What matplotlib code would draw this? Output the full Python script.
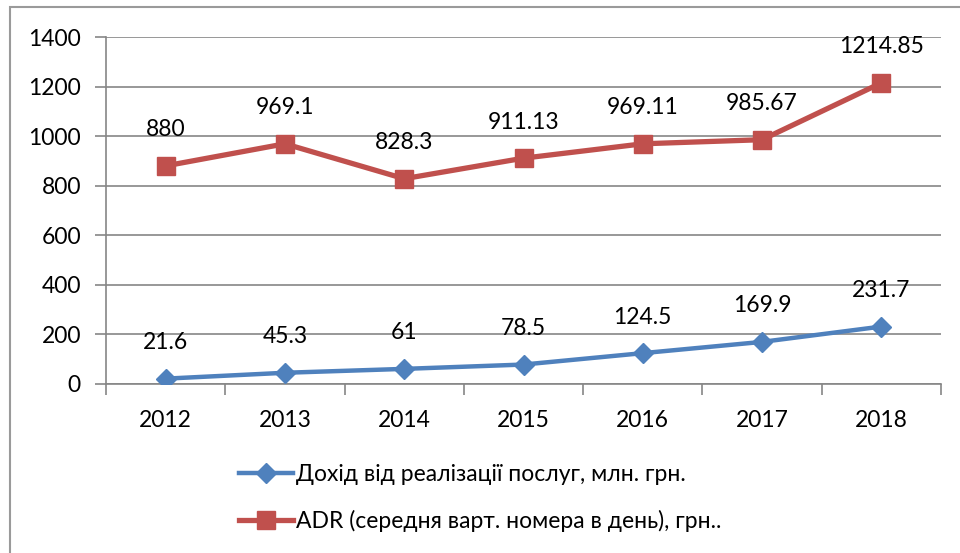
import matplotlib.pyplot as plt
import matplotlib.patches as mpatches
import numpy as np

plt.rcParams['font.family'] = ['Lato', 'Open Sans', 'DejaVu Sans']

years = ["2012", "2013", "2014", "2015", "2016", "2017", "2018"]
income = [21.6, 45.3, 61, 78.5, 124.5, 169.9, 231.7]
adr = [880, 969.1, 828.3, 911.13, 969.11, 985.67, 1214.85]
income_labels = ["21.6", "45.3", "61", "78.5", "124.5", "169.9", "231.7"]
adr_labels = ["880", "969.1", "828.3", "911.13", "969.11", "985.67", "1214.85"]
name_income = "Дохід від реалізації послуг, млн. грн."
name_adr = "ADR (середня варт. номера в день), грн.."

blue = "#4F81BD"
red = "#C0504D"
grey = "#868686"

fig = plt.figure(figsize=(9.6, 5.53), dpi=100)
ax = fig.add_axes([106 / 960, 1 - 384 / 553, 835 / 960, 347 / 553])

x = np.arange(len(years))
ax.plot(x, income, color=blue, lw=3.2, marker="D", ms=10, label=name_income, zorder=3)
ax.plot(x, adr, color=red, lw=3.8, marker="s", ms=13, label=name_adr, zorder=3)

# data labels above points
for xi, v, t in zip(x, income, income_labels):
    ax.annotate(t, (xi, v), xytext=(0, 26), textcoords="offset points",
                ha="center", va="center", fontsize=16.5)
for xi, v, t in zip(x, adr, adr_labels):
    ax.annotate(t, (xi, v), xytext=(0, 26), textcoords="offset points",
                ha="center", va="center", fontsize=16.5)

ax.set_xlim(-0.5, len(years) - 0.5)
ax.set_ylim(0, 1400)
ax.set_yticks(range(0, 1401, 200))
ax.set_xticks(x)
ax.set_xticklabels(years)
ax.set_xticks(np.arange(-0.5, len(years)), minor=True)
ax.tick_params(axis="x", which="major", length=0, pad=19, labelsize=16.5)
ax.tick_params(axis="x", which="minor", length=8, color=grey, width=1.2)
ax.tick_params(axis="y", length=8, color=grey, width=1.2, pad=10, labelsize=16.5)
ax.grid(axis="y", color=grey, lw=1.2)
ax.set_axisbelow(True)
for s in ["top", "right"]:
    ax.spines[s].set_visible(False)
for s in ["left", "bottom"]:
    ax.spines[s].set_color(grey)
    ax.spines[s].set_linewidth(1.2)

fig.legend(loc="center", bbox_to_anchor=(0.5, 1 - 498 / 553), ncol=1, frameon=False,
           fontsize=16.5, handlelength=2.35, labelspacing=1.05, handletextpad=0.15)

# chart frame
fig.patches.append(mpatches.Rectangle((10 / 960, -0.1), 2, 1.1 - 7 / 553,
                                      transform=fig.transFigure, fill=False,
                                      edgecolor="#9a9a9a", lw=1.5))

fig.savefig("out.png", dpi=100)
